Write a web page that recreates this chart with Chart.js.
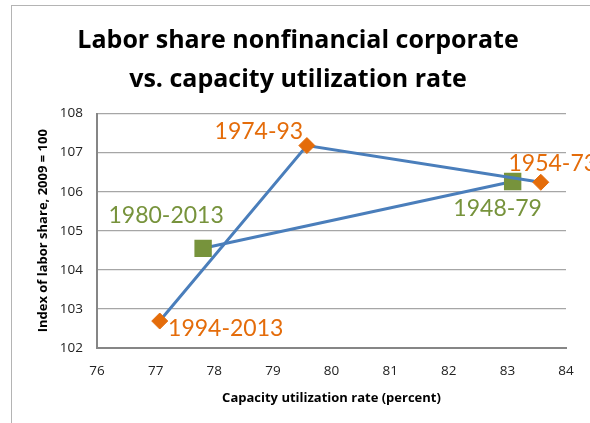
<!DOCTYPE html>
<html>
<head>
<meta charset="utf-8">
<script src="https://cdn.jsdelivr.net/npm/chart.js@4/dist/chart.umd.min.js"></script>
<style>
  html, body { margin: 0; padding: 0; background: #fff; }
  #wrap { position: relative; width: 590px; height: 423px; overflow: hidden; }
  #frame { position: absolute; left: 11px; top: 5px; width: 700px; height: 600px;
           border-left: 1px solid #b4b4b4; border-top: 1px solid #b4b4b4; }
  canvas { position: absolute; left: 0; top: 0; }
</style>
</head>
<body>
<div id="wrap">
  <div id="frame"></div>
  <canvas id="c" width="590" height="423"></canvas>
</div>
<script>
// Period series plotted as diamonds (orange)
const diamondLabels = ["1994-2013", "1974-93", "1954-73"];
const diamondCapacity = [77.07, 79.58, 83.57];
const diamondLaborShare = [102.69, 107.18, 106.24];

// Period series plotted as squares (green)
const squareLabels = ["1980-2013", "1948-79"];
const squareCapacity = [77.81, 83.09];
const squareLaborShare = [104.55, 106.26];

const titleLines = ["Labor share nonfinancial corporate", "vs. capacity utilization rate"];
const xAxisTitle = "Capacity utilization rate (percent)";
const yAxisTitle = "Index of labor share, 2009 = 100";

const LABEL_FONT = "Lato, 'Open Sans', sans-serif";
const FONT = "'Open Sans', Lato, sans-serif";
const BLUE = "#4a7ebb";
const ORANGE = "#e46c0a";
const GREEN = "#77933c";

// label placement (pixel offsets of the text centre from the marker)
const labelOffsets = {
  "1994-2013": [66, 8],
  "1974-93": [-48, -14],
  "1954-73": [12, -19],
  "1980-2013": [-37, -33],
  "1948-79": [-15, 27]
};

const toPts = (xs, ys) => xs.map((x, i) => ({ x: x, y: ys[i] }));

const labelPlugin = {
  id: 'pointLabels',
  afterDatasetsDraw(chart) {
    const ctx = chart.ctx;
    ctx.save();
    ctx.font = "23px " + LABEL_FONT;
    ctx.textAlign = "center";
    ctx.textBaseline = "middle";
    chart.data.datasets.forEach((ds, di) => {
      const meta = chart.getDatasetMeta(di);
      meta.data.forEach((pt, i) => {
        const txt = ds.pointNames[i];
        const off = labelOffsets[txt] || [0, 0];
        ctx.fillStyle = ds.labelColor;
        ctx.fillText(txt, pt.x + off[0], pt.y + off[1]);
      });
    });
    ctx.restore();
  }
};

new Chart(document.getElementById('c'), {
  type: 'scatter',
  data: {
    datasets: [
      {
        data: toPts(diamondCapacity, diamondLaborShare),
        pointNames: diamondLabels,
        labelColor: ORANGE,
        showLine: true,
        borderColor: BLUE,
        borderWidth: 3,
        pointStyle: 'rectRot',
        pointRadius: 8,
        pointHoverRadius: 8,
        pointBackgroundColor: ORANGE,
        pointBorderColor: ORANGE,
        pointBorderWidth: 1
      },
      {
        data: toPts(squareCapacity, squareLaborShare),
        pointNames: squareLabels,
        labelColor: GREEN,
        showLine: true,
        borderColor: BLUE,
        borderWidth: 3,
        pointStyle: 'rect',
        pointRadius: 12.3,
        pointHoverRadius: 12.3,
        pointBackgroundColor: GREEN,
        pointBorderColor: GREEN,
        pointBorderWidth: 0
      }
    ]
  },
  options: {
    responsive: false,
    animation: false,
    events: [],
    layout: { padding: { left: 30, right: 24, top: 0, bottom: 0 } },
    plugins: {
      legend: { display: false },
      tooltip: { enabled: false },
      title: {
        display: true,
        text: titleLines,
        color: "#000",
        font: { family: FONT, size: 25, weight: 'bold', lineHeight: 1.53 },
        padding: { top: 22, bottom: 15 }
      }
    },
    scales: {
      x: {
        type: 'linear',
        min: 76, max: 84,
        ticks: { stepSize: 1, color: "#222", padding: 15, font: { family: FONT, size: 13.5 } },
        grid: { display: false, drawTicks: false },
        border: { display: true, color: "#868686", width: 2 },
        title: { display: true, text: xAxisTitle, color: "#000",
                 font: { family: FONT, size: 13, weight: 'bold', lineHeight: 1.2 },
                 padding: { top: 0, bottom: 17 } },
        afterFit(s) { s.height = 75; }
      },
      y: {
        type: 'linear',
        min: 102, max: 108,
        ticks: { stepSize: 1, color: "#222", padding: 14, font: { family: FONT, size: 13.5 } },
        grid: { color: "#a6a6a6", lineWidth: 1.3, drawTicks: false },
        border: { display: true, color: "#868686", width: 2 },
        title: { display: true, text: yAxisTitle, color: "#000",
                 font: { family: FONT, size: 13, weight: 'bold', lineHeight: 1.2 },
                 padding: { top: 5, bottom: 0 } },
        afterFit(s) { s.width = 67; }
      }
    }
  },
  plugins: [labelPlugin]
});
</script>
</body>
</html>
